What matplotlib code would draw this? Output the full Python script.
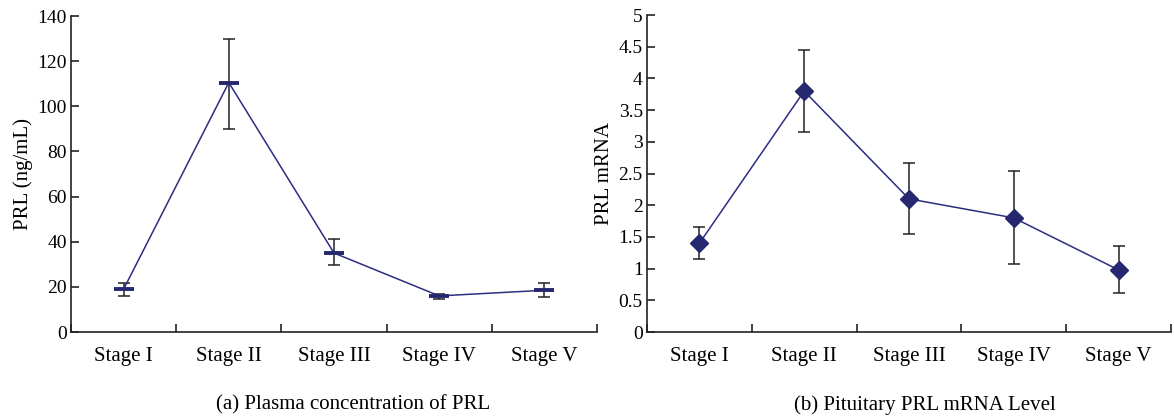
import numpy as np
import matplotlib
matplotlib.use('Agg')
import matplotlib.pyplot as plt

plt.rcParams['font.family'] = ['Liberation Serif', 'DejaVu Serif']

stages = ['Stage I', 'Stage II', 'Stage III', 'Stage IV', 'Stage V']

# (a) plasma PRL
prl_mean = [19, 110.5, 35, 16, 18.5]
prl_lo = [16, 90, 29.5, 14.5, 15.5]
prl_hi = [21.5, 130, 41, 17, 21.5]

# (b) pituitary PRL mRNA
mrna_mean = [1.4, 3.8, 2.1, 1.8, 0.98]
mrna_lo = [1.15, 3.15, 1.55, 1.07, 0.61]
mrna_hi = [1.65, 4.45, 2.67, 2.54, 1.36]

line_col = '#2b2d80'
mark_col = '#25286e'
err_col = '#222222'

fig = plt.figure(figsize=(11.74, 4.18), dpi=100)
ax1 = fig.add_axes([0.0605, 0.2057, 0.448, 0.756])
ax2 = fig.add_axes([0.5511, 0.2057, 0.4463, 0.7584])


def style(ax, ylim, yticks, yticklabels, ylabel):
    x = np.arange(len(stages))
    ax.set_xlim(-0.5, len(stages) - 0.5)
    ax.set_ylim(*ylim)
    ax.spines['top'].set_visible(False)
    ax.spines['right'].set_visible(False)
    for s in ['left', 'bottom']:
        ax.spines[s].set_linewidth(1.2)
        ax.spines[s].set_color('#222222')
    ax.set_xticks(np.arange(-0.5, len(stages)))
    ax.set_xticklabels([])
    ax.set_xticks(x, minor=True)
    ax.set_xticklabels(stages, minor=True, fontsize=15)
    ax.tick_params(axis='x', which='major', direction='in', length=6, width=1.2, color='#222222')
    ax.tick_params(axis='x', which='minor', length=0, pad=11)
    ax.set_yticks(yticks)
    ax.set_yticklabels(yticklabels, fontsize=14)
    ax.tick_params(axis='y', direction='in', length=6, width=1.2, color='#222222', pad=3)
    ax.set_ylabel(ylabel, fontsize=15, labelpad=3)


x = np.arange(len(stages))

# panel a
err_a = [np.array(prl_mean) - np.array(prl_lo), np.array(prl_hi) - np.array(prl_mean)]
ax1.errorbar(x, prl_mean, yerr=err_a, fmt='none', ecolor=err_col, elinewidth=1.1, capsize=4, capthick=1.1, zorder=2)
ax1.plot(x, prl_mean, color=line_col, lw=1.1, marker='_', markersize=14, mew=2.8, mec=mark_col, zorder=3)
style(ax1, (0, 140), np.arange(0, 141, 20), [str(v) for v in range(0, 141, 20)], 'PRL (ng/mL)')

# panel b
err_b = [np.array(mrna_mean) - np.array(mrna_lo), np.array(mrna_hi) - np.array(mrna_mean)]
ax2.errorbar(x, mrna_mean, yerr=err_b, fmt='none', ecolor=err_col, elinewidth=1.1, capsize=4, capthick=1.1, zorder=2)
ax2.plot(x, mrna_mean, color=line_col, lw=1.1, marker='D', markersize=9, mfc=mark_col, mec=mark_col, zorder=3)
yt = np.arange(0, 5.01, 0.5)
style(ax2, (0, 5), yt, ['0', '0.5', '1', '1.5', '2', '2.5', '3', '3.5', '4', '4.5', '5'], 'PRL mRNA')

fig.text(353 / 1174, 1 - 405 / 418, '(a) Plasma concentration of PRL', ha='center', va='center', fontsize=15)
fig.text(925 / 1174, 1 - 405 / 418, '(b) Pituitary PRL mRNA Level', ha='center', va='center', fontsize=15)

fig.savefig('out.png', dpi=100)
